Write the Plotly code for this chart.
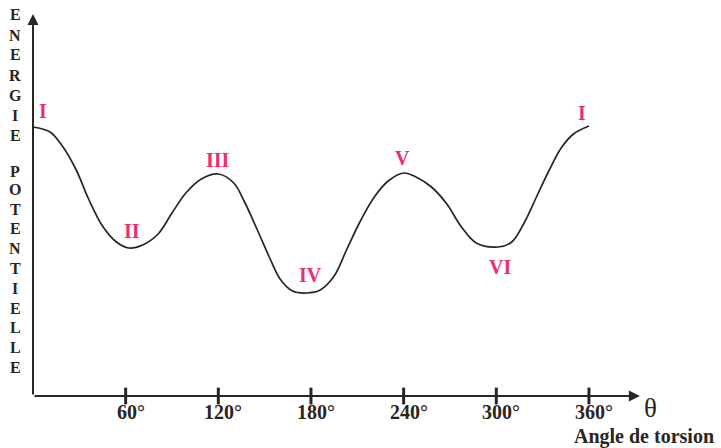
import plotly.graph_objects as go

# ---- data (angle in degrees, energy in arbitrary units) ----
angles = [0, 11, 19, 28, 36, 45, 54, 62, 71, 81, 90, 99, 109, 120, 130, 137, 145, 153,
          160, 168, 177, 186, 195, 203, 212, 221, 230, 240, 248, 258, 268, 277, 287,
          301, 310, 318, 326, 334, 342, 350, 360]
energy = [269, 264, 250, 226, 197, 170, 154, 148, 151, 162, 183, 203, 217, 222, 213, 194,
          167, 139, 117, 105, 103, 106, 120, 146, 175, 199, 215, 223, 219, 209, 192, 170,
          153, 149, 154, 173, 199, 225, 248, 262, 270]

tick_vals = [60, 120, 180, 240, 300, 360]
tick_text = ["60°", "120°", "180°", "240°", "300°", "360°"]

conf_names = ["I", "II", "III", "IV", "V", "VI", "I"]
conf_angles = [0, 60, 120, 180, 240, 300, 360]

y_title = "ENERGIE POTENTIELLE"

# ---- styling ----
INK = "#2a2520"
PINK = "#e8306e"
SERIF = "Liberation Serif, Times New Roman, serif"

W, H = 721, 448
ML, MR, MT, MB = 33, 76, 10, 46
PW, PH = W - ML - MR, H - MT - MB
XR = [0, 396.3]
YR = [-6, 386]

def px_x(q):
    return (q - ML) / PW

def px_y(p):
    return (H - MB - p) / PH

fig = go.Figure()

fig.add_trace(go.Scatter(
    x=angles, y=energy, mode="lines",
    line=dict(color=INK, width=1.7, shape="spline", smoothing=1.0),
    hoverinfo="skip", showlegend=False))

# tick marks on the x axis
fig.add_trace(go.Scatter(
    x=tick_vals, y=[0] * len(tick_vals), mode="markers",
    marker=dict(symbol="line-ns", size=12, line=dict(color=INK, width=3)),
    cliponaxis=False, hoverinfo="skip", showlegend=False))

ann = []
# axes with arrows
ann.append(dict(x=0, y=382, ax=0, ay=0, xref="x", yref="y", axref="x", ayref="y",
                text="", showarrow=True, arrowhead=2, arrowsize=1.1, arrowwidth=2,
                arrowcolor=INK, standoff=0))
ann.append(dict(x=393, y=0, ax=0, ay=0, xref="x", yref="y", axref="x", ayref="y",
                text="", showarrow=True, arrowhead=2, arrowsize=1.1, arrowwidth=2,
                arrowcolor=INK, standoff=0))

# tick labels
for v, t in zip(tick_vals, tick_text):
    ann.append(dict(x=v, y=px_y(412), xref="x", yref="paper", text=t, showarrow=False,
                    xanchor="center", yanchor="middle", xshift=5,
                    font=dict(family=SERIF, size=20, color=INK, weight="bold")))

# theta and axis title
ann.append(dict(x=px_x(650), y=px_y(408), xref="paper", yref="paper", text="θ",
                showarrow=False, xanchor="center", yanchor="middle",
                font=dict(family=SERIF, size=27, color=INK)))
ann.append(dict(x=px_x(644), y=px_y(437), xref="paper", yref="paper",
                text="Angle de torsion", showarrow=False, xanchor="center",
                yanchor="middle",
                font=dict(family=SERIF, size=20, color=INK, weight="bold")))

# vertical stacked y title
letter_py = [15, 35, 55, 75, 95, 115, 135, None, 172, 190, 209, 228, 248, 268, 288, 308,
             327, 347, 367]
for ch, p in zip(y_title, letter_py):
    if ch == " " or p is None:
        continue
    ann.append(dict(x=px_x(15), y=px_y(p), xref="paper", yref="paper", text=ch,
                    showarrow=False, xanchor="center", yanchor="middle",
                    font=dict(family=SERIF, size=16, color=INK, weight="bold")))

# conformer labels
lab_shift = [(10, 16), (6, 17), (0, 14), (0, 18), (-1, 15), (4, -20), (-7, 13)]
for name, a, (dx, dy) in zip(conf_names, conf_angles, lab_shift):
    i = min(range(len(angles)), key=lambda k: abs(angles[k] - a))
    e = energy[i]
    ann.append(dict(x=a, y=e, xref="x", yref="y", text=name, showarrow=False,
                    xanchor="center", yanchor="middle", xshift=dx, yshift=dy,
                    font=dict(family=SERIF, size=20, color=PINK, weight="bold")))

fig.update_layout(
    width=W, height=H,
    margin=dict(l=ML, r=MR, t=MT, b=MB, pad=0),
    paper_bgcolor="white", plot_bgcolor="white",
    xaxis=dict(range=XR, visible=False, fixedrange=True),
    yaxis=dict(range=YR, visible=False, fixedrange=True),
    annotations=ann,
    showlegend=False,
)

fig.write_html("out.html",
               config={"displayModeBar": False, "staticPlot": True},
               post_script="document.body.style.margin='0';document.body.style.overflow='hidden';")
